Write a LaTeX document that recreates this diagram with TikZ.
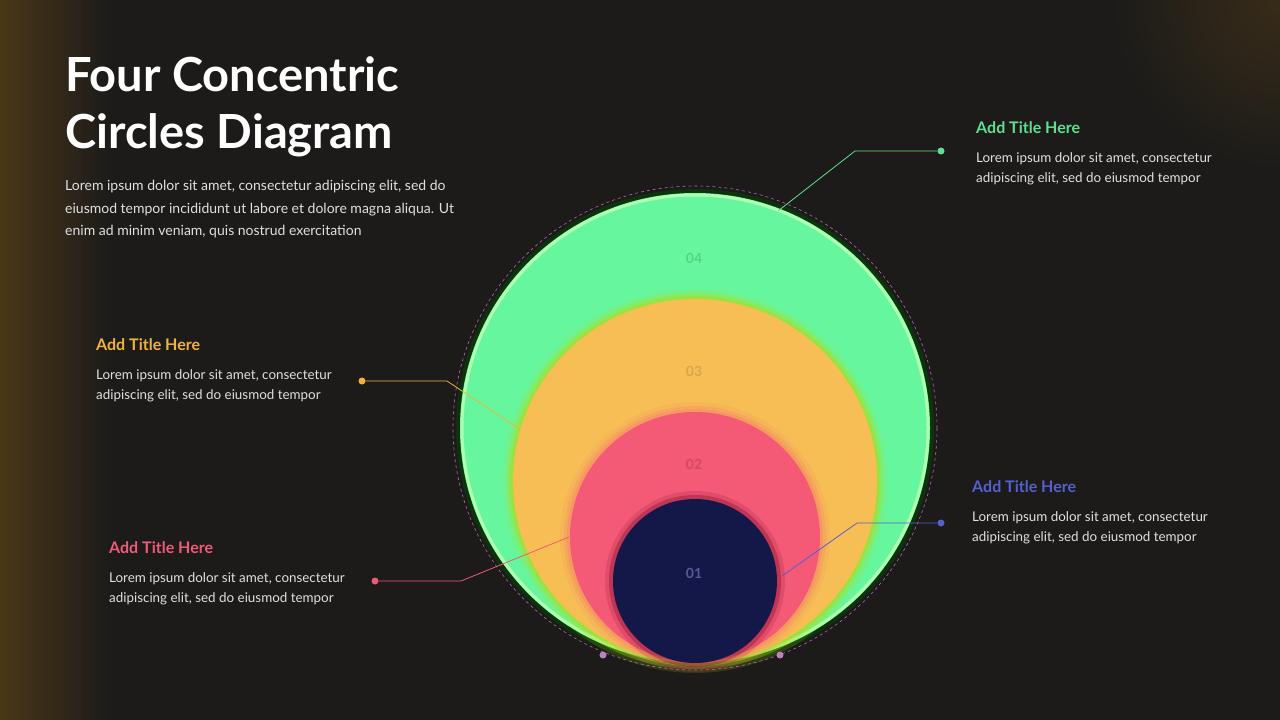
\documentclass[tikz,border=0pt]{standalone}
\usepackage{fontspec}
\setmainfont{Lato}
\usetikzlibrary{positioning}
\definecolor{bg}{HTML}{1C1B19}
\definecolor{glow}{HTML}{4A3718}
\definecolor{cgreen}{HTML}{66F79E}
\definecolor{corange}{HTML}{F7BE55}
\definecolor{cred}{HTML}{F45A75}
\definecolor{cnavy}{HTML}{141848}
\definecolor{tgreen}{HTML}{5EE08E}
\definecolor{torange}{HTML}{F0B23C}
\definecolor{tred}{HTML}{EE5A78}
\definecolor{tblue}{HTML}{5560D0}
\tikzset{body/.style={text=white!88!black,font=\fontsize{13.4}{20}\selectfont,align=left,anchor=north west,inner sep=0pt}}
\tikzset{ttl/.style={font=\fontsize{16}{18}\selectfont\bfseries,anchor=west,inner sep=0pt}}
\tikzset{dot/.style={circle,inner sep=0pt,minimum size=7pt}}
\begin{document}
\begin{tikzpicture}[x=1pt,y=-1pt]
    \tikzstyle{num}=[font=\fontsize{14}{14}\selectfont\bfseries,inner sep=0pt]

    % Background and glows
    \fill[bg] (0,0) rectangle (1280,720);
    \useasboundingbox (0,0) rectangle (1280,720);
    \shade[left color=glow,right color=bg] (0,0) rectangle (110,720);
    \shade[inner color=glow!60!bg,outer color=bg] (1280,0) circle (170);
    \fill[bg] (110,0) rectangle (1110,720);

    % Title and intro text
    \node[anchor=west,inner sep=0pt,text=white,font=\fontsize{47}{57}\selectfont\bfseries,align=left] (title) at (65,107) {Four Concentric\\Circles Diagram};
    \node[body,font=\fontsize{14}{22.5}\selectfont] (intro) at (65,180) {Lorem ipsum dolor sit amet, consectetur adipiscing elit, sed do\\eiusmod tempor incididunt ut labore et dolore magna aliqua. Ut\\enim ad minim veniam, quis nostrud exercitation};

    % The circles, from outside to inside
    \draw[violet!60!white,dashed,line width=0.6pt] (695,428) circle (242);
    \fill[black!70!green,opacity=0.5] (695,428) circle (239);
    \fill[cgreen] (695,428) circle (235);
    \draw[green!30!white,line width=3pt] (695,428) circle (233);
    \foreach \r/\o in {192/0.15,188/0.3,185/0.5}
        \fill[yellow!70!green,opacity=\o] (695,481) circle (\r);
    \fill[corange] (695,481) circle (182);
    \foreach \r/\o in {135/0.12,131/0.2,128/0.3}
        \fill[cred!70!corange,opacity=\o] (695,537) circle (\r);
    \fill[cred] (695,537) circle (125);
    \foreach \r/\o in {90/0.15,86/0.3}
        \fill[purple!60!black,opacity=\o] (695,581) circle (\r);
    \fill[cnavy] (695,581) circle (82);

    % Numbers
    \node[num,text=cgreen!85!black] (n4) at (694,258) {04};
    \node[num,text=corange!88!black] (n3) at (694,371) {03};
    \node[num,text=cred!85!black] (n2) at (694,464) {02};
    \node[num,text=cnavy!80!blue!70!white] (n1) at (694,573) {01};

    % Callout anchors on the circles
    \coordinate (a4) at (778,211);
    \coordinate (a3) at (521,430);
    \coordinate (a2) at (569,537);
    \coordinate (a1) at (782,576);
    \node[dot,fill=violet!50!white] (p1) at (603,655) {};
    \node[dot,fill=violet!50!white] (p2) at (780,655) {};

    % Callouts
    \foreach \name/\col/\dx/\dy/\kx/\tx/\ty in {g/tgreen/941/151/855/976/128,
                                                o/torange/362/381/447/96/345,
                                                r/tred/375/581/461/109/548,
                                                b/tblue/941/523/857/972/487}
    {
        \node[dot,fill=\col] (d-\name) at (\dx,\dy) {};
        \coordinate (k-\name) at (\kx,\dy);
        \node[ttl,text=\col] (t-\name) at (\tx,\ty) {Add Title Here};
        \node[body,below=24pt of t-\name.west,anchor=north west] {Lorem ipsum dolor sit amet, consectetur\\adipiscing elit, sed do eiusmod tempor};
    }
    \draw[tgreen,line width=0.8pt] (d-g) -- (k-g) -- (a4);
    \draw[torange,line width=0.8pt] (d-o) -- (k-o) -- (a3);
    \draw[tred,line width=0.8pt] (d-r) -- (k-r) -- (a2);
    \draw[tblue,line width=0.8pt] (d-b) -- (k-b) -- (a1);
\end{tikzpicture}
\end{document}
